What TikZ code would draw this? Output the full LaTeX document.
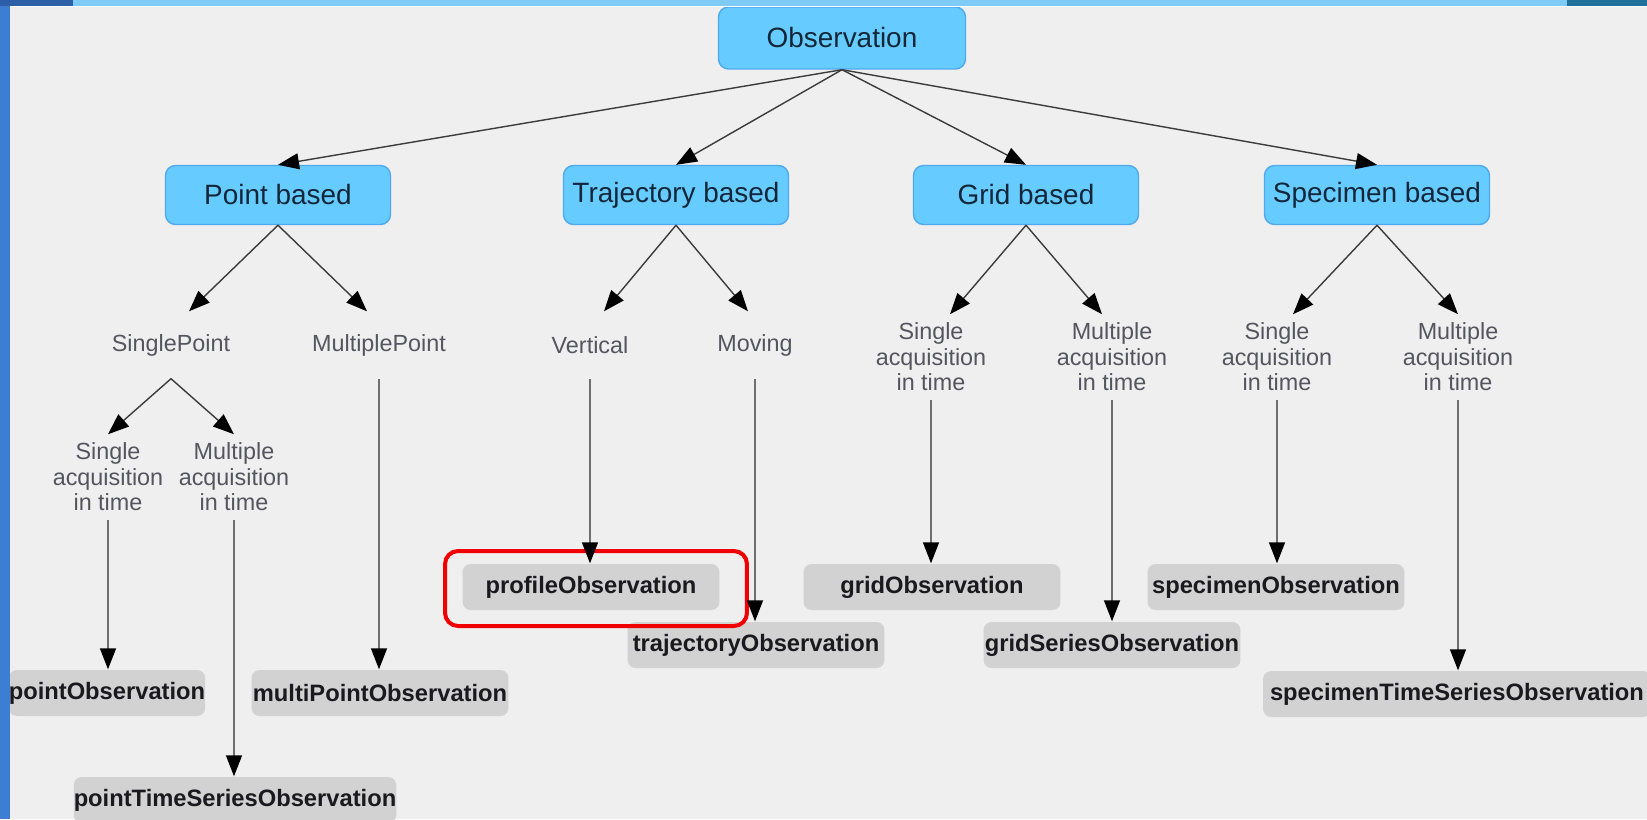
\documentclass[tikz,border=0pt]{standalone}
\usepackage{fontspec}
\setmainfont{Liberation Sans}
\usepackage{tikz}
\usetikzlibrary{arrows.meta}
\usetikzlibrary{positioning}

\definecolor{panel}{HTML}{EFEFEF}
\definecolor{bluebox}{HTML}{66CBFF}
\definecolor{blueedge}{HTML}{4FA9EC}
\definecolor{navytext}{HTML}{14273A}
\definecolor{labeltext}{HTML}{55555E}
\definecolor{graybox}{HTML}{D2D2D2}
\definecolor{darktext}{HTML}{1A1A1E}
\definecolor{linegray}{HTML}{3C3C3C}
\definecolor{droplinegray}{HTML}{6E6E6E}
\definecolor{deskblue}{HTML}{3B7ED4}
\definecolor{deskdark}{HTML}{2D5FA8}
\definecolor{barblue}{HTML}{7FCBF7}
\definecolor{barteal}{HTML}{20709C}
\definecolor{markred}{HTML}{F00000}

\begin{document}
\begin{tikzpicture}[x=0.02cm, y=-0.02cm, line width=0.8pt,
        family/.style={draw=blueedge, fill=bluebox, rounded corners=0.2cm, minimum width=4.5cm, minimum height=1.18cm, text=navytext, font=\fontsize{15.9}{18}\selectfont},
        kind/.style={align=center, text=labeltext, inner sep=0.16cm, font=\fontsize{13.3}{14.5}\selectfont},
        oneline/.style={kind, minimum height=1.32cm},
        result/.style={fill=graybox, rounded corners=0.16cm, minimum width=5.14cm, minimum height=0.92cm, inner xsep=0pt, text=darktext, font=\bfseries\fontsize{13.5}{16}\selectfont},
        arr/.style={draw=linegray, -{Triangle[length=0.42cm,width=0.32cm,color=black]}},
        drop/.style={arr, draw=droplinegray},
        highlight/.style={draw=markred, line width=0.08cm, rounded corners=0.26cm}]
        \useasboundingbox (0,0) rectangle (1647,819);
        \fill[panel] (0,0) rectangle (1647,819);

        % root
        \node (obs) at (842,38) [family, minimum width=4.94cm, minimum height=1.24cm] {Observation};

        % families
        \node (pb) at (278,195) [family] {Point based};
        \node (tb) at (676,195) [family] {Trajectory based};
        \node (gb) at (1026,195) [family] {Grid based};
        \node (sb) at (1377,195) [family] {Specimen based};

        % sampling kinds
        \node (sp) at (171,345) [oneline] {SinglePoint};
        \node (mp) at (379,345) [oneline] {MultiplePoint};
        \node (vert) at (590,345) [oneline] {Vertical};
        \node (mov) at (755,345) [oneline] {Moving};
        \node (gs) at (931,357) [kind] {Single\\acquisition\\in time};
        \node (gm) at (1112,357) [kind] {Multiple\\acquisition\\in time};
        \node (ss) at (1277,357) [kind] {Single\\acquisition\\in time};
        \node (sm) at (1458,357) [kind] {Multiple\\acquisition\\in time};
        \node (sa) at (108,477) [kind] {Single\\acquisition\\in time};
        \node (ma) at (234,477) [kind] {Multiple\\acquisition\\in time};

        % observation types
        \node (po) at (107,693) [result, minimum width=0pt] {pointObservation};
        \node (pts) at (235,800) [result, minimum width=0pt] {pointTimeSeriesObservation};
        \node (mpo) at (380,693) [result] {multiPointObservation};
        \node (pro) at (591,587) [result] {profileObservation};
        \node (tro) at (756,645) [result] {trajectoryObservation};
        \node (gro) at (932,587) [result] {gridObservation};
        \node (gso) at (1112,645) [result] {gridSeriesObservation};
        \node (spo) at (1276,587) [result] {specimenObservation};
        \node (sto) at (1457,694) [result, inner xsep=0.14cm] {specimenTimeSeriesObservation};

        % marked type
        \node (mark) at (596,588.5) [highlight, minimum width=6.04cm, minimum height=1.5cm] {};

        % connections
        \draw[arr] (obs.south) -- (pb.north);
        \draw[arr] (obs.south) -- (tb.north);
        \draw[arr] (obs.south) -- (gb.north);
        \draw[arr] (obs.south) -- (sb.north);

        \draw[arr] (pb.south) -- ([xshift=0.36cm]sp.north);
        \draw[arr] (pb.south) -- ([xshift=-0.24cm]mp.north);
        \draw[arr] (tb.south) -- ([xshift=0.28cm]vert.north);
        \draw[arr] (tb.south) -- ([xshift=-0.14cm]mov.north);
        \draw[arr] (gb.south) -- ([xshift=0.38cm]gs.north);
        \draw[arr] (gb.south) -- ([xshift=-0.2cm]gm.north);
        \draw[arr] (sb.south) -- ([xshift=0.32cm]ss.north);
        \draw[arr] (sb.south) -- (sm.north);
        \draw[arr] (sp.south) -- (sa.north);
        \draw[arr] (sp.south) -- (ma.north);

        \draw[drop] (sa.south) -- (sa.south |- po.north);
        \draw[drop] (ma.south) -- (ma.south |- pts.north);
        \draw[drop] (mp.south) -- (mp.south |- mpo.north);
        \draw[drop] (vert.south) -- (vert.south |- pro.north);
        \draw[drop] (mov.south) -- (mov.south |- tro.north);
        \draw[drop] (gs.south) -- (gs.south |- gro.north);
        \draw[drop] (gm.south) -- (gm.south |- gso.north);
        \draw[drop] (ss.south) -- (ss.south |- spo.north);
        \draw[drop] (sm.south) -- (sm.south |- sto.north);

        % desktop frame
        \fill[barblue] (0,0) rectangle (1647,6);
        \fill[deskdark] (0,0) rectangle (73,6);
        \fill[barteal] (1567,0) rectangle (1647,6);
        \fill[deskblue] (0,6) rectangle (10,819);
        \draw[white, line width=0.5pt] (10,6.5) -- (1647,6.5);
    \end{tikzpicture}
\end{document}
